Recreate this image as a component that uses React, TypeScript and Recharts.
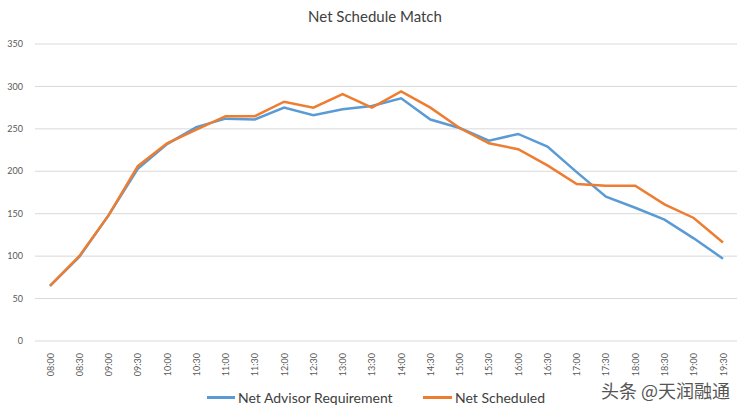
import { LineChart, Line, XAxis, YAxis, CartesianGrid } from 'recharts';

const times = [
  '08:00', '08:30', '09:00', '09:30', '10:00', '10:30', '11:00', '11:30',
  '12:00', '12:30', '13:00', '13:30', '14:00', '14:30', '15:00', '15:30',
  '16:00', '16:30', '17:00', '17:30', '18:00', '18:30', '19:00', '19:30',
];

const advisorRequirement = [
  65, 99, 148, 203, 232, 252, 262, 261, 275, 266, 273, 277,
  286, 261, 251, 236, 244, 229, 199, 170, 157, 143, 121, 97,
];

const netScheduled = [
  65, 100, 148, 206, 233, 249, 265, 265, 282, 275, 291, 275,
  294, 275, 251, 233, 226, 207, 185, 183, 183, 161, 145, 116,
];

const yTicks = [0, 50, 100, 150, 200, 250, 300, 350];

const data = times.map((t, i) => ({
  time: t,
  requirement: advisorRequirement[i],
  scheduled: netScheduled[i],
}));

const FONT = 'Lato, "Open Sans", sans-serif';

const TimeTick = ({ x, y, payload }: { x?: number; y?: number; payload?: { value: string } }) => (
  <text
    x={x}
    y={(y ?? 0) + 4}
    transform={`rotate(-90, ${x}, ${(y ?? 0) + 4})`}
    textAnchor="end"
    dominantBaseline="central"
    fontSize={9}
    fontFamily={FONT}
    fill="#595959"
  >
    {payload?.value}
  </text>
);

export default function App() {
  return (
    <div style={{ position: 'absolute', left: 0, top: 0, width: 750, height: 411, background: '#fff', fontFamily: FONT }}>
      <div style={{ position: 'absolute', left: 0, top: 7, width: 750, textAlign: 'center', fontSize: 15, color: '#404040' }}>
        Net Schedule Match
      </div>
      <LineChart width={750} height={411} data={data} margin={{ top: 44, right: 13, left: 0, bottom: 0 }}>
        <CartesianGrid horizontal vertical={false} stroke="#d9d9d9" />
        <XAxis
          dataKey="time"
          axisLine={false}
          tickLine={false}
          interval={0}
          height={70}
          padding={{ left: 15, right: 14 }}
          tick={<TimeTick />}
        />
        <YAxis
          width={35}
          domain={[0, 350]}
          ticks={yTicks}
          axisLine={false}
          tickLine={false}
          tick={{ fontSize: 9, fill: '#595959', fontFamily: FONT }}
          dx={-4}
        />
        <Line
          type="linear"
          dataKey="requirement"
          stroke="#5B9BD5"
          strokeWidth={2.5}
          dot={false}
          isAnimationActive={false}
        />
        <Line
          type="linear"
          dataKey="scheduled"
          stroke="#ED7D31"
          strokeWidth={2.5}
          dot={false}
          isAnimationActive={false}
        />
      </LineChart>
      <div style={{ position: 'absolute', left: 207, top: 389, display: 'flex', alignItems: 'center', fontSize: 14, color: '#404040' }}>
        <span style={{ display: 'inline-block', width: 28, height: 2.5, background: '#5B9BD5', marginRight: 3 }} />
        <span>Net Advisor Requirement</span>
      </div>
      <div style={{ position: 'absolute', left: 423, top: 389, display: 'flex', alignItems: 'center', fontSize: 14, color: '#404040' }}>
        <span style={{ display: 'inline-block', width: 29, height: 2.5, background: '#ED7D31', marginRight: 3 }} />
        <span>Net Scheduled</span>
      </div>
      <div style={{ position: 'absolute', left: 601, top: 377, fontSize: 18, color: '#555', fontFamily: '"Noto Sans CJK SC", sans-serif' }}>
        头条 @天润融通
      </div>
    </div>
  );
}
